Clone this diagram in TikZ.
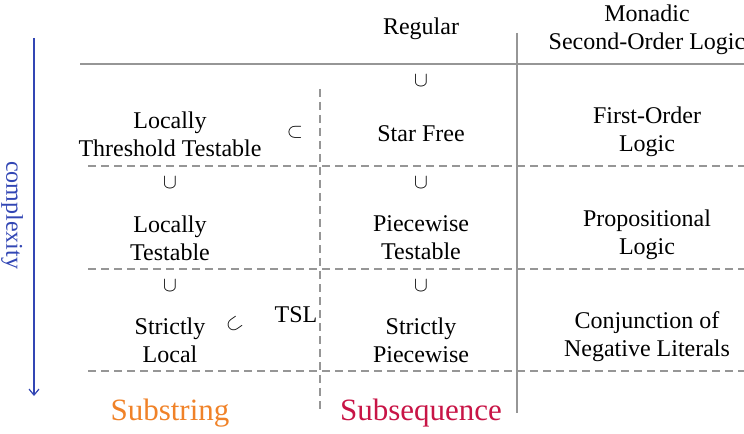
\documentclass[tikz,border=0pt]{standalone}
\usepackage{fontspec}
\setmainfont{Liberation Serif}
\usetikzlibrary{arrows.meta}
\definecolor{axisblue}{RGB}{50,70,180}
\definecolor{lgray}{RGB}{150,150,150}
\definecolor{substr}{RGB}{240,130,40}
\definecolor{subseq}{RGB}{200,20,70}
\tikzset{
  lbl/.style={align=center, font=\fontsize{24bp}{28bp}\selectfont, inner sep=0pt},
  rel/.style={font=\fontsize{22bp}{26bp}\selectfont, inner sep=0pt},
  big/.style={font=\fontsize{31bp}{36bp}\selectfont, inner sep=0pt},
  solidline/.style={draw=lgray, line width=1.2bp},
  dashline/.style={draw=lgray, line width=1.2bp, dash pattern=on 8bp off 5bp},
}
\begin{document}
\begin{tikzpicture}[x=1bp,y=-1bp]
\useasboundingbox (0,0) rectangle (744,434);
% axis
\coordinate (atop) at (34,38);
\coordinate (abot) at (34,396);
\draw[axisblue, line width=1.2bp, -{Straight Barb[length=6bp,width=10bp]}] (atop) -- (abot);
\node[lbl, text=axisblue, rotate=-90] (cx) at (12,215) {complexity};
% grid lines
\coordinate (h0l) at (80,64); \coordinate (h0r) at (744,64);
\draw[solidline] (h0l) -- (h0r);
\coordinate (v1t) at (517,33); \coordinate (v1b) at (517,413);
\draw[solidline] (v1t) -- (v1b);
\coordinate (v0t) at (320,89); \coordinate (v0b) at (320,414);
\draw[dashline] (v0t) -- (v0b);
\foreach \yy/\nm in {166/a,269/b,371/c}{
  \coordinate (h\nm l) at (88,\yy); \coordinate (h\nm r) at (744,\yy);
  \draw[dashline] (h\nm l) -- (h\nm r);
}
% headers
\node[lbl] (reg) at (421,29) {Regular};
\node[lbl] (mso) at (647,30) {Monadic\\Second-Order Logic};
% row 1
\node[lbl] (ltt) at (170,134) {Locally\\Threshold Testable};
\node[rel] (sub1) at (295,132) {$\subset$};
\node[rel] (u0) at (421,81) {$\cup$};
\node[lbl] (sf) at (421,134) {Star Free};
\node[lbl] (fo) at (647,132) {First-Order\\Logic};
% row 2
\node[rel] (u1) at (170,183) {$\cup$};
\node[rel] (u2) at (421,183) {$\cup$};
\node[lbl] (lt) at (170,238) {Locally\\Testable};
\node[lbl] (pt) at (421,238) {Piecewise\\Testable};
\node[lbl] (pl) at (647,235) {Propositional\\Logic};
% row 3
\node[rel] (u3) at (170,286) {$\cup$};
\node[rel] (u4) at (421,286) {$\cup$};
\node[lbl] (sl) at (170,340) {Strictly\\Local};
\node[rel, rotate=35] (sub2) at (234,325) {$\subset$};
\node[lbl] (tsl) at (296,315) {TSL};
\node[lbl] (sp) at (421,340) {Strictly\\Piecewise};
\node[lbl] (cnl) at (647,337) {Conjunction of\\Negative Literals};
% bottom
\node[big, text=substr] (sstr) at (170,413) {Substring};
\node[big, text=subseq] (sseq) at (421,413) {Subsequence};
\end{tikzpicture}
\end{document}
